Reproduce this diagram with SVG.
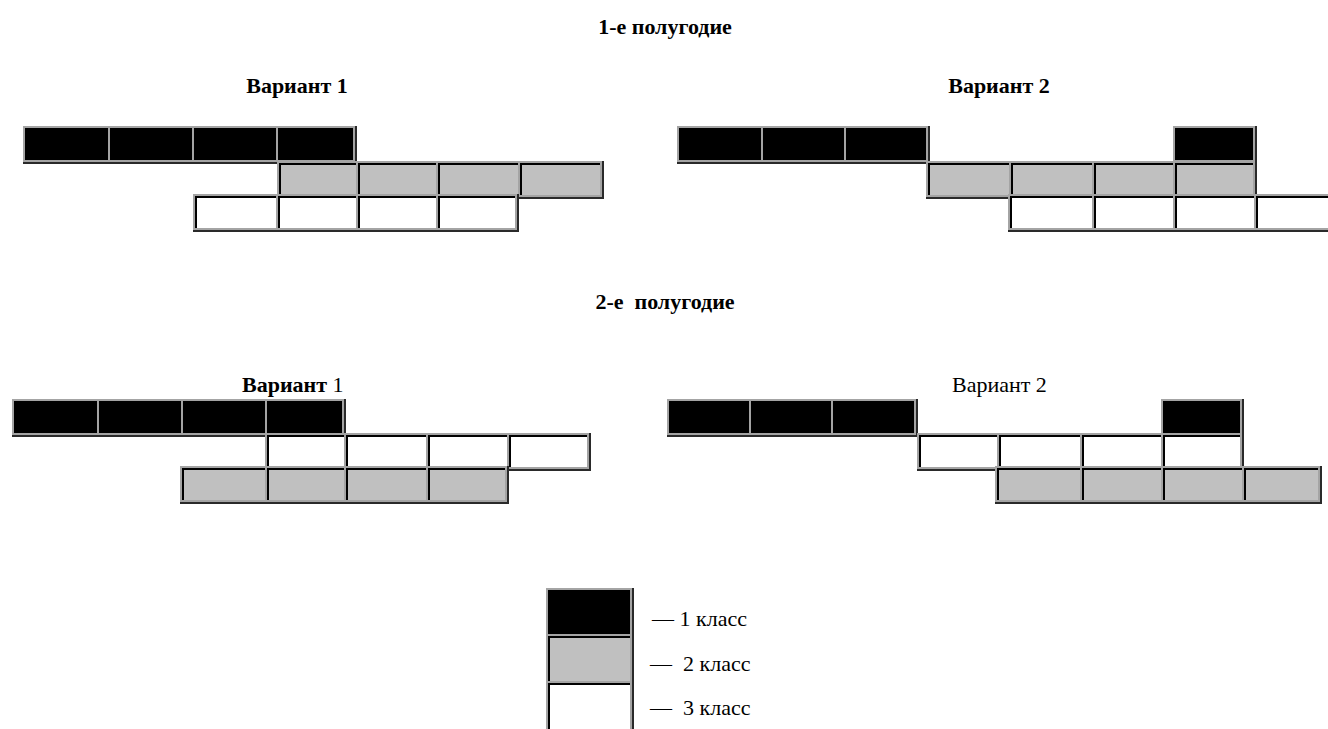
<svg xmlns="http://www.w3.org/2000/svg" width="1328" height="729" viewBox="0 0 1328 729">
<style>
.bg{fill:#a4a4a4}
.ed{fill:none;stroke:#2a2a2a;stroke-width:2}
.k{fill:#000}
.g{fill:#c0c0c0}
.w{fill:#fff}
text{font-family:"Liberation Serif","Times New Roman",serif;font-size:22px;fill:#000;white-space:pre}
.b{font-weight:bold}
</style>
<rect width="1328" height="729" fill="#fff"/>
<g id="titles">
<text class="b" x="665" y="34" text-anchor="middle">1-е полугодие</text>
<text class="b" x="297" y="93" text-anchor="middle">Вариант 1</text>
<text class="b" x="999" y="93" text-anchor="middle">Вариант 2</text>
<text class="b" x="665" y="309" text-anchor="middle">2-е  полугодие</text>
<text x="242" y="392"><tspan class="b">Вариант</tspan> 1</text>
<text x="952" y="392">Вариант 2</text>
</g>

<g id="s1v1-row1">
<rect class="bg" x="23" y="126" width="334" height="38"/>
<path class="ed" d="M356,126V163H23"/>
<rect class="k" x="25" y="128" width="83" height="32"/>
<rect class="k" x="110" y="128" width="82" height="32"/>
<rect class="k" x="194" y="128" width="82" height="32"/>
<rect class="k" x="278" y="128" width="75" height="32"/>
</g>
<g id="s1v1-row2">
<rect class="bg" x="277" y="161" width="327" height="38"/>
<path class="ed" d="M603,161V198H277"/>
<rect class="k" x="279" y="163" width="77" height="32"/><rect class="g" x="281" y="165" width="75" height="30"/>
<rect class="k" x="358" y="163" width="78" height="32"/><rect class="g" x="360" y="165" width="76" height="30"/>
<rect class="k" x="438" y="163" width="80" height="32"/><rect class="g" x="440" y="165" width="78" height="30"/>
<rect class="k" x="520" y="163" width="80" height="32"/><rect class="g" x="522" y="165" width="78" height="30"/>
</g>
<g id="s1v1-row3">
<rect class="bg" x="193" y="194" width="326" height="38"/>
<path class="ed" d="M518,194V231H193"/>
<rect class="k" x="195" y="196" width="81" height="32"/><rect class="w" x="197" y="198" width="79" height="30"/>
<rect class="k" x="278" y="196" width="78" height="32"/><rect class="w" x="280" y="198" width="76" height="30"/>
<rect class="k" x="358" y="196" width="78" height="32"/><rect class="w" x="360" y="198" width="76" height="30"/>
<rect class="k" x="438" y="196" width="77" height="32"/><rect class="w" x="440" y="198" width="75" height="30"/>
</g>

<g id="s1v2-row1">
<rect class="bg" x="677" y="126" width="253" height="38"/>
<path class="ed" d="M929,126V163H677"/>
<rect class="k" x="679" y="128" width="82" height="32"/>
<rect class="k" x="763" y="128" width="81" height="32"/>
<rect class="k" x="846" y="128" width="80" height="32"/>
</g>
<g id="s1v2-row1b">
<rect class="bg" x="1173" y="126" width="84" height="38"/>
<path class="ed" d="M1256,126V163H1173"/>
<rect class="k" x="1175" y="128" width="78" height="32"/>
</g>
<g id="s1v2-row2">
<rect class="bg" x="926" y="161" width="331" height="38"/>
<path class="ed" d="M1256,161V198H926"/>
<rect class="k" x="928" y="163" width="81" height="32"/><rect class="g" x="930" y="165" width="79" height="30"/>
<rect class="k" x="1011" y="163" width="81" height="32"/><rect class="g" x="1013" y="165" width="79" height="30"/>
<rect class="k" x="1094" y="163" width="79" height="32"/><rect class="g" x="1096" y="165" width="77" height="30"/>
<rect class="k" x="1175" y="163" width="78" height="32"/><rect class="g" x="1177" y="165" width="76" height="30"/>
</g>
<g id="s1v2-row3">
<rect class="bg" x="1008" y="194" width="330" height="38"/>
<path class="ed" d="M1008,231H1338"/>
<rect class="k" x="1010" y="196" width="82" height="32"/><rect class="w" x="1012" y="198" width="80" height="30"/>
<rect class="k" x="1094" y="196" width="79" height="32"/><rect class="w" x="1096" y="198" width="77" height="30"/>
<rect class="k" x="1175" y="196" width="79" height="32"/><rect class="w" x="1177" y="198" width="77" height="30"/>
<rect class="k" x="1256" y="196" width="80" height="32"/><rect class="w" x="1258" y="198" width="78" height="30"/>
</g>

<g id="s2v1-row1">
<rect class="bg" x="12" y="399" width="334" height="38"/>
<path class="ed" d="M345,399V436H12"/>
<rect class="k" x="14" y="401" width="83" height="32"/>
<rect class="k" x="99" y="401" width="82" height="32"/>
<rect class="k" x="183" y="401" width="82" height="32"/>
<rect class="k" x="267" y="401" width="75" height="32"/>
</g>
<g id="s2v1-row2">
<rect class="bg" x="265" y="433" width="326" height="38"/>
<path class="ed" d="M590,433V470H265"/>
<rect class="k" x="267" y="435" width="77" height="32"/><rect class="w" x="269" y="437" width="75" height="30"/>
<rect class="k" x="346" y="435" width="80" height="32"/><rect class="w" x="348" y="437" width="78" height="30"/>
<rect class="k" x="428" y="435" width="79" height="32"/><rect class="w" x="430" y="437" width="77" height="30"/>
<rect class="k" x="509" y="435" width="78" height="32"/><rect class="w" x="511" y="437" width="76" height="30"/>
</g>
<g id="s2v1-row3">
<rect class="bg" x="180" y="466" width="329" height="38"/>
<path class="ed" d="M508,466V503H180"/>
<rect class="k" x="182" y="468" width="83" height="32"/><rect class="g" x="184" y="470" width="81" height="30"/>
<rect class="k" x="267" y="468" width="77" height="32"/><rect class="g" x="269" y="470" width="75" height="30"/>
<rect class="k" x="346" y="468" width="80" height="32"/><rect class="g" x="348" y="470" width="78" height="30"/>
<rect class="k" x="428" y="468" width="77" height="32"/><rect class="g" x="430" y="470" width="75" height="30"/>
</g>

<g id="s2v2-row1">
<rect class="bg" x="667" y="399" width="251" height="38"/>
<path class="ed" d="M917,399V436H667"/>
<rect class="k" x="669" y="401" width="80" height="32"/>
<rect class="k" x="751" y="401" width="80" height="32"/>
<rect class="k" x="833" y="401" width="81" height="32"/>
</g>
<g id="s2v2-row1b">
<rect class="bg" x="1161" y="399" width="83" height="38"/>
<path class="ed" d="M1243,399V436H1161"/>
<rect class="k" x="1163" y="401" width="77" height="32"/>
</g>
<g id="s2v2-row2">
<rect class="bg" x="917" y="433" width="327" height="38"/>
<path class="ed" d="M1243,433V470H917"/>
<rect class="k" x="919" y="435" width="78" height="32"/><rect class="w" x="921" y="437" width="76" height="30"/>
<rect class="k" x="999" y="435" width="81" height="32"/><rect class="w" x="1001" y="437" width="79" height="30"/>
<rect class="k" x="1082" y="435" width="79" height="32"/><rect class="w" x="1084" y="437" width="77" height="30"/>
<rect class="k" x="1163" y="435" width="77" height="32"/><rect class="w" x="1165" y="437" width="75" height="30"/>
</g>
<g id="s2v2-row3">
<rect class="bg" x="995" y="466" width="327" height="38"/>
<path class="ed" d="M1321,466V503H995"/>
<rect class="k" x="997" y="468" width="83" height="32"/><rect class="g" x="999" y="470" width="81" height="30"/>
<rect class="k" x="1082" y="468" width="79" height="32"/><rect class="g" x="1084" y="470" width="77" height="30"/>
<rect class="k" x="1163" y="468" width="79" height="32"/><rect class="g" x="1165" y="470" width="77" height="30"/>
<rect class="k" x="1244" y="468" width="74" height="32"/><rect class="g" x="1246" y="470" width="72" height="30"/>
</g>

<g id="legend">
<rect class="bg" x="546" y="588" width="88" height="145"/>
<path class="ed" d="M633,588V733"/>
<rect class="k" x="548" y="590" width="82" height="44"/>
<rect class="k" x="548" y="636" width="82" height="45"/><rect class="g" x="550" y="638" width="80" height="43"/>
<rect class="k" x="548" y="683" width="82" height="50"/><rect class="w" x="550" y="685" width="80" height="48"/>
<text x="652" y="626">— 1 класс</text>
<text x="650" y="671">—  2 класс</text>
<text x="650" y="715">—  3 класс</text>
</g>
</svg>
